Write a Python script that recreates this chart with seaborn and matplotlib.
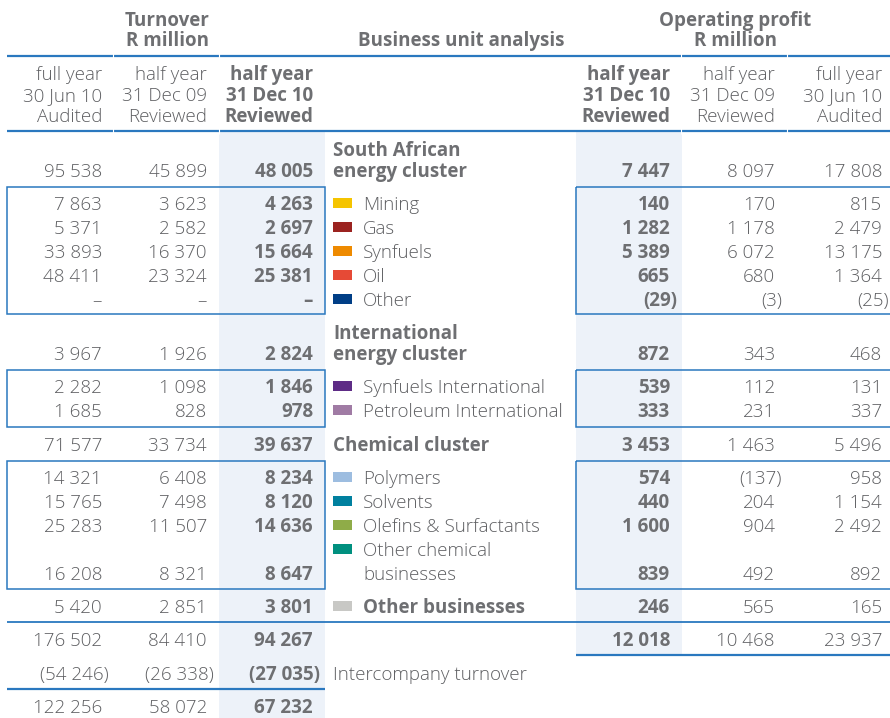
import matplotlib.pyplot as plt
import matplotlib.patches as mpatches
import seaborn as sns

# Business unit analysis - Turnover and Operating profit (R million)
segments = ["South African\nenergy cluster", "Mining", "Gas", "Synfuels", "Oil", "Other",
            "International\nenergy cluster", "Synfuels International", "Petroleum International",
            "Chemical cluster", "Polymers", "Solvents", "Olefins & Surfactants",
            "Other chemical\nbusinesses", "Other businesses", "", "Intercompany turnover", ""]
bold_segments = ["South African\nenergy cluster", "International\nenergy cluster",
                 "Chemical cluster", "Other businesses"]
swatch_colors = [None, "#f5c400", "#9b2320", "#ee8a00", "#e64a36", "#003e86",
                 None, "#5e2c86", "#a07ba4", None, "#9dbde0", "#00809f", "#8fac48",
                 "#00907f", "#c8c8c5", None, None, None]

turnover_fy10 = [95538, 7863, 5371, 33893, 48411, None, 3967, 2282, 1685, 71577,
                 14321, 15765, 25283, 16208, 5420, 176502, -54246, 122256]
turnover_hy09 = [45899, 3623, 2582, 16370, 23324, None, 1926, 1098, 828, 33734,
                 6408, 7498, 11507, 8321, 2851, 84410, -26338, 58072]
turnover_hy10 = [48005, 4263, 2697, 15664, 25381, None, 2824, 1846, 978, 39637,
                 8234, 8120, 14636, 8647, 3801, 94267, -27035, 67232]
profit_hy10 = [7447, 140, 1282, 5389, 665, -29, 872, 539, 333, 3453,
               574, 440, 1600, 839, 246, 12018]
profit_hy09 = [8097, 170, 1178, 6072, 680, -3, 343, 112, 231, 1463,
               -137, 204, 904, 492, 565, 10468]
profit_fy10 = [17808, 815, 2479, 13175, 1364, -25, 468, 131, 337, 5496,
               958, 1154, 2492, 892, 165, 23937]

col_heads = ["full year\n30 Jun 10\nAudited", "half year\n31 Dec 09\nReviewed",
             "half year\n31 Dec 10\nReviewed"]

# layout (pixels)
row_base = [177, 210, 234, 258, 282, 306, 360, 393, 417, 451, 484, 508, 532, 580, 613, 646, 680, 713]
turn_x = [102, 207, 313]
prof_x = [670, 775, 882]
LINE = "#2a78bf"
GREY = "#6e6f72"
LIGHT_GREY = "#5e5f62"
SHADE = "#edf2f9"

sns.set_theme(style="white")
plt.rcParams["font.family"] = ["Open Sans", "DejaVu Sans"]
FS = 13.5

fig = plt.figure(figsize=(8.9, 7.18), dpi=100)
ax = fig.add_axes([0, 0, 1, 1])
ax.set_xlim(0, 890)
ax.set_ylim(718, 0)
ax.axis("off")


def fmt(v):
    if v is None:
        return "–"
    s = f"{abs(v):,}".replace(",", " ")
    return f"({s})" if v < 0 else s


def txt(x, y, s, bold=False, ha="right"):
    ax.text(x, y, s, ha=ha, va="baseline", fontsize=FS,
            color=GREY if bold else LIGHT_GREY,
            fontweight="bold" if bold else "light")


def num(x, y, v, bold=False):
    dx = 7 if (v is not None and v < 0) else 0
    txt(x + dx, y, fmt(v), bold)


# shaded current-period columns
ax.add_patch(mpatches.Rectangle((219, 131), 106, 587, color=SHADE, lw=0, zorder=0))
ax.add_patch(mpatches.Rectangle((576, 131), 106, 524, color=SHADE, lw=0, zorder=0))

# rules
ax.hlines([56, 131], 7, 890, color=LINE, lw=1.6)
ax.hlines(622, 7, 890, color=LINE, lw=1.3)
ax.hlines(655, 576, 890, color=LINE, lw=1.6)
ax.hlines(689, 7, 325, color=LINE, lw=1.6)
for top, bot in [(187, 314), (370, 427), (461, 589)]:
    ax.add_patch(mpatches.Rectangle((7, top), 318, bot - top, fill=False, ec=LINE, lw=1.1))
    ax.add_patch(mpatches.Rectangle((576, top), 318, bot - top, fill=False, ec=LINE, lw=1.1))
for gx in [113, 219, 681, 787]:
    ax.vlines(gx, 53, 59, color="white", lw=0.8)
    ax.vlines(gx, 128, 134, color="white", lw=0.8)

# headers
txt(167, 26, "Turnover", True, ha="center")
txt(167, 46, "R million", True, ha="center")
txt(735, 26, "Operating profit", True, ha="center")
txt(735, 46, "R million", True, ha="center")
txt(358, 46, "Business unit analysis", True, ha="left")

for i, head in enumerate(col_heads):
    bold = i == 2
    for j, line in enumerate(head.split("\n")):
        y = 80 + j * 21
        txt(turn_x[i], y, line, bold)
        txt(prof_x[2 - i], y, line, bold)

# rows
for r, seg in enumerate(segments):
    y = row_base[r]
    num(turn_x[0], y, turnover_fy10[r])
    num(turn_x[1], y, turnover_hy09[r])
    num(turn_x[2], y, turnover_hy10[r], bold=True)
    if r < len(profit_hy10):
        num(prof_x[0], y, profit_hy10[r], bold=True)
        num(prof_x[1], y, profit_hy09[r])
        num(prof_x[2], y, profit_fy10[r])
    if not seg:
        continue
    lines = seg.split("\n")
    col = swatch_colors[r]
    step = 24 if col else 21
    first = y - step * (len(lines) - 1)
    if col:
        ax.add_patch(mpatches.Rectangle((333, first - 12), 19, 10, color=col, lw=0))
    tx = 363 if col else 333
    for k, line in enumerate(lines):
        txt(tx, first + k * step, line, seg in bold_segments, ha="left")

fig.savefig("out.png", dpi=100)
